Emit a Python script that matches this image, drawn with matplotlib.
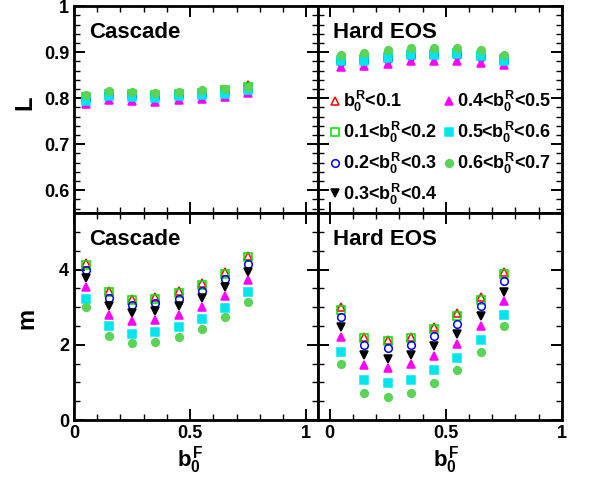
import numpy as np
import matplotlib.pyplot as plt
from matplotlib.ticker import MultipleLocator, FuncFormatter

plt.rcParams['font.family'] = 'Liberation Sans'
plt.rcParams['font.weight'] = 'bold'
plt.rcParams['mathtext.fontset'] = 'custom'
plt.rcParams['mathtext.rm'] = 'Liberation Sans:bold'
plt.rcParams['mathtext.it'] = 'Liberation Sans:bold'
plt.rcParams['mathtext.bf'] = 'Liberation Sans:bold'
plt.rcParams['mathtext.sf'] = 'Liberation Sans:bold'

# b0^F bin centres
bF = [0.05, 0.15, 0.25, 0.35, 0.45, 0.55, 0.65, 0.75]

labels = ['$b_0^R$<0.1', '0.1<$b_0^R$<0.2', '0.2<$b_0^R$<0.3', '0.3<$b_0^R$<0.4',
          '0.4<$b_0^R$<0.5', '0.5<$b_0^R$<0.6', '0.6<$b_0^R$<0.7']
markers = ['^', 's', 'o', 'v', '^', 's', 'o']
colors = ['#ff0000', '#00e000', '#0000ff', '#000000', '#ff00ff', '#00e5ee', '#59d454']
filled = [False, False, False, True, True, True, True]

# L, cascade
L_cascade = [
    [0.803, 0.811, 0.810, 0.808, 0.811, 0.813, 0.818, 0.828],
    [0.802, 0.810, 0.809, 0.807, 0.810, 0.812, 0.817, 0.825],
    [0.798, 0.806, 0.805, 0.803, 0.806, 0.808, 0.813, 0.820],
    [0.795, 0.803, 0.802, 0.800, 0.803, 0.805, 0.810, 0.817],
    [0.787, 0.797, 0.795, 0.792, 0.796, 0.798, 0.802, 0.812],
    [0.795, 0.804, 0.803, 0.800, 0.804, 0.806, 0.810, 0.818],
    [0.806, 0.815, 0.813, 0.812, 0.814, 0.817, 0.821, 0.825],
]
# L, hard EOS
L_hard = [
    [0.884, 0.887, 0.891, 0.897, 0.898, 0.899, 0.894, 0.887],
    [0.883, 0.886, 0.890, 0.896, 0.897, 0.898, 0.893, 0.886],
    [0.878, 0.881, 0.886, 0.892, 0.893, 0.894, 0.889, 0.881],
    [0.874, 0.877, 0.881, 0.887, 0.888, 0.889, 0.884, 0.877],
    [0.867, 0.871, 0.874, 0.880, 0.881, 0.882, 0.876, 0.872],
    [0.880, 0.882, 0.887, 0.894, 0.894, 0.896, 0.891, 0.882],
    [0.894, 0.899, 0.904, 0.909, 0.909, 0.910, 0.904, 0.894],
]
# m, cascade
m_cascade = [
    [4.18, 3.44, 3.22, 3.27, 3.42, 3.63, 3.93, 4.37],
    [4.13, 3.40, 3.18, 3.23, 3.38, 3.58, 3.88, 4.33],
    [3.98, 3.24, 3.07, 3.11, 3.23, 3.44, 3.75, 4.15],
    [3.78, 3.02, 2.84, 2.89, 3.02, 3.24, 3.53, 3.94],
    [3.54, 2.80, 2.62, 2.67, 2.80, 3.00, 3.31, 3.71],
    [3.22, 2.49, 2.29, 2.33, 2.47, 2.68, 2.98, 3.40],
    [3.00, 2.24, 2.04, 2.07, 2.20, 2.43, 2.73, 3.13],
]
# m, hard EOS
m_hard = [
    [3.00, 2.22, 2.13, 2.22, 2.47, 2.84, 3.27, 3.93],
    [2.93, 2.18, 2.09, 2.18, 2.42, 2.76, 3.20, 3.87],
    [2.74, 2.00, 1.91, 2.00, 2.24, 2.56, 3.04, 3.69],
    [2.47, 1.72, 1.63, 1.72, 1.96, 2.29, 2.76, 3.40],
    [2.22, 1.47, 1.38, 1.48, 1.71, 2.03, 2.51, 3.16],
    [1.80, 1.07, 0.98, 1.07, 1.32, 1.64, 2.13, 2.80],
    [1.48, 0.71, 0.62, 0.73, 0.98, 1.32, 1.82, 2.51],
]

fig, axs = plt.subplots(2, 2, figsize=(5.9, 4.84), dpi=100)
fig.subplots_adjust(left=0.1254, right=0.9525, top=0.987, bottom=0.1322,
                    wspace=0, hspace=0)

panels = [(axs[0, 0], L_cascade, 'Cascade'), (axs[0, 1], L_hard, 'Hard EOS'),
          (axs[1, 0], m_cascade, 'Cascade'), (axs[1, 1], m_hard, 'Hard EOS')]

fmt = FuncFormatter(lambda v, p: f'{round(v, 3):g}')

for ax, data, title in panels:
    for i in range(7):
        ax.plot(bF, data[i], ls='none', marker=markers[i], ms=5.5,
                mfc=colors[i] if filled[i] else 'none', mec=colors[i], mew=1.1,
                label=labels[i])
    ax.text(0.06, 0.875, title, transform=ax.transAxes, fontsize=16,
            fontweight='bold', va='center', ha='left')
    ax.xaxis.set_major_locator(MultipleLocator(0.5))
    ax.xaxis.set_minor_locator(MultipleLocator(0.1))
    ax.xaxis.set_major_formatter(fmt)
    ax.yaxis.set_major_formatter(fmt)
    ax.tick_params(which='both', direction='in', top=True, right=True, labelsize=13)
    ax.tick_params(which='major', length=8, width=1.4)
    ax.tick_params(which='minor', length=4, width=1.0)
    for s in ax.spines.values():
        s.set_linewidth(2)

for ax in axs[0]:
    ax.set_ylim(0.55, 1.0)
    ax.yaxis.set_major_locator(MultipleLocator(0.1))
    ax.yaxis.set_minor_locator(MultipleLocator(0.02))
    ax.tick_params(labelbottom=False)
for ax in axs[1]:
    ax.set_ylim(0, 5.5)
    ax.yaxis.set_major_locator(MultipleLocator(2))
    ax.yaxis.set_minor_locator(MultipleLocator(0.5))
    ax.text(0.5, -0.195, '$b_0^F$', transform=ax.get_xaxis_transform(),
            fontsize=16, ha='center', va='center')
for ax in axs[:, 0]:
    ax.set_xlim(0, 1.05)
for ax in axs[:, 1]:
    ax.set_xlim(-0.05, 1.0)
    ax.tick_params(labelleft=False)

axs[0, 1].legend(ncol=2, loc='upper left', bbox_to_anchor=(0.05, 0.6),
                 frameon=False, fontsize=13, handlelength=0.5, handletextpad=0.2,
                 columnspacing=0.4, labelspacing=0.32, borderaxespad=0, borderpad=0)

fig.text(25 / 590, 1 - 103 / 484, 'L', fontsize=17, rotation=90, ha='center', va='center')
fig.text(27 / 590, 1 - 318 / 484, 'm', fontsize=17, rotation=90, ha='center', va='center')

fig.savefig('out.png')
